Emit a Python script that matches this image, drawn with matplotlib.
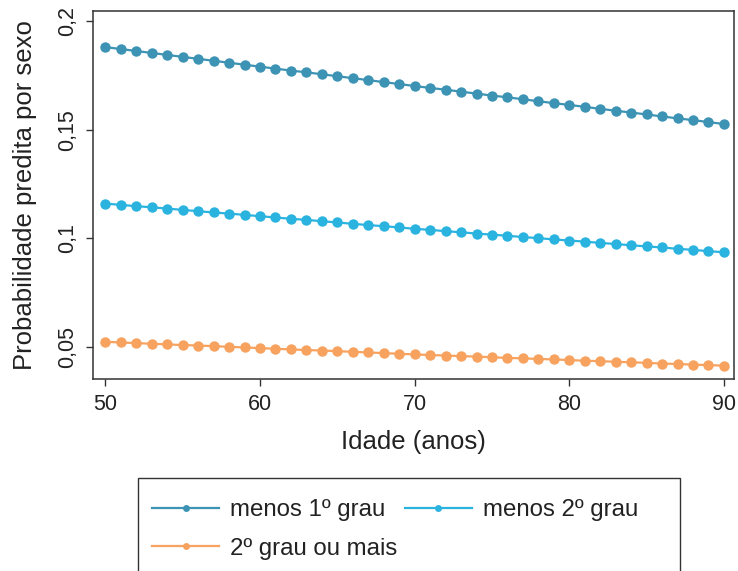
import numpy as np
import matplotlib
matplotlib.use("Agg")
from matplotlib import pyplot as plt
from matplotlib.patches import Rectangle

plt.rcParams['font.family'] = ['Liberation Sans', 'DejaVu Sans']

# idade (anos)
idade = list(range(50, 91))

# probabilidade predita por escolaridade
menos_1grau = [0.1880, 0.1871, 0.1862, 0.1853, 0.1844, 0.1835, 0.1826, 0.1817, 0.1808, 0.1799,
               0.1790, 0.1781, 0.1772, 0.1764, 0.1755, 0.1746, 0.1737, 0.1728, 0.1719, 0.1710,
               0.1701, 0.1692, 0.1684, 0.1675, 0.1666, 0.1657, 0.1649, 0.1640, 0.1631, 0.1622,
               0.1614, 0.1605, 0.1596, 0.1587, 0.1579, 0.1570, 0.1561, 0.1552, 0.1544, 0.1535,
               0.1526]
menos_2grau = [0.1160, 0.1154, 0.1148, 0.1143, 0.1137, 0.1131, 0.1125, 0.1119, 0.1114, 0.1108,
               0.1102, 0.1096, 0.1090, 0.1085, 0.1079, 0.1073, 0.1067, 0.1061, 0.1056, 0.1050,
               0.1044, 0.1039, 0.1033, 0.1028, 0.1022, 0.1017, 0.1012, 0.1006, 0.1001, 0.0995,
               0.0990, 0.0985, 0.0979, 0.0974, 0.0968, 0.0963, 0.0958, 0.0952, 0.0947, 0.0941,
               0.0936]
grau2_ou_mais = [0.0524, 0.0521, 0.0518, 0.0515, 0.0512, 0.0509, 0.0507, 0.0504, 0.0501, 0.0498,
                 0.0495, 0.0492, 0.0489, 0.0486, 0.0484, 0.0481, 0.0478, 0.0475, 0.0472, 0.0469,
                 0.0466, 0.0463, 0.0461, 0.0458, 0.0456, 0.0453, 0.0450, 0.0448, 0.0445, 0.0443,
                 0.0440, 0.0437, 0.0435, 0.0432, 0.0430, 0.0427, 0.0424, 0.0422, 0.0419, 0.0417,
                 0.0414]

series = [("menos 1º grau", menos_1grau, "#3d93b3"),
          ("menos 2º grau", menos_2grau, "#2bb3e0"),
          ("2º grau ou mais", grau2_ou_mais, "#f7a25e")]

xticks = [50, 60, 70, 80, 90]
yticks = [0.05, 0.1, 0.15, 0.2]
ylabels = ["0,05", "0,1", "0,15", "0,2"]

W, H = 738, 571
fig = plt.figure(figsize=(W / 100, H / 100), dpi=100)
ax = fig.add_axes([0.126, 0.3363, 0.8686, 0.6444])

for nome, vals, cor in series:
    ax.plot(idade, vals, color=cor, lw=1.6, marker="o", ms=7.5, mew=0, label=nome)

ax.set_xlim(49.2, 90.65)
ax.set_ylim(0.0353, 0.2046)
ax.set_xticks(xticks)
ax.set_yticks(yticks)
ax.set_yticklabels(ylabels, rotation=90, va="center")
ax.tick_params(axis="both", labelsize=15.5, colors="#333333", labelcolor="#222222",
               length=5, width=1, direction="out", pad=6)
for sp in ax.spines.values():
    sp.set_color("#333333")
    sp.set_linewidth(1.1)

ax.set_xlabel("Idade (anos)", fontsize=18.5, color="#222222")
ax.set_ylabel("Probabilidade predita por sexo", fontsize=18.5, color="#222222")
ax.xaxis.set_label_coords(0.5, -0.139)
ax.yaxis.set_label_coords(-0.088, 0.5)

# caixa da legenda (a base fica fora da figura)
fig.patches.append(Rectangle((138 / W, -0.05), (680 - 138) / W, 0.05 + (H - 478) / H,
                             transform=fig.transFigure, fill=False,
                             edgecolor="#333333", lw=1.0))

# legenda preenchida por linhas (ordem das colunas trocada)
leg_handles = []
for nome, vals, cor in series:
    h, = ax.plot([], [], color=cor, lw=1.6, marker="o", ms=5, mew=0, label=nome)
    leg_handles.append(h)
ordem = [0, 2, 1]
leg = fig.legend(handles=[leg_handles[i] for i in ordem], loc="upper left",
                 bbox_to_anchor=(152 / W, (H - 499) / H), ncol=2, fontsize=17.3,
                 frameon=False, handlelength=2.8, handletextpad=0.45, columnspacing=0.3,
                 borderpad=0, labelspacing=0.7, borderaxespad=0)
for t in leg.get_texts():
    t.set_color("#222222")

fig.savefig("out.png", dpi=100)
